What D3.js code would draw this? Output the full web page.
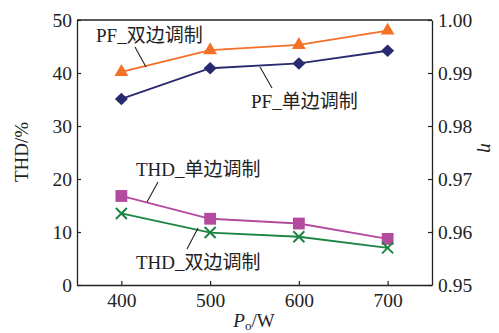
<!DOCTYPE html>
<html>
<head>
<meta charset="utf-8">
<script src="https://cdn.jsdelivr.net/npm/d3@7"></script>
<style>
  body { margin: 0; background: #fff; }
  svg { display: block; }
  text { font-family: "Liberation Serif", "Noto Sans CJK SC", serif; fill: #222; }
</style>
</head>
<body>
<svg id="svgid" width="499" height="333"></svg>
<script>
    var powers = [400, 500, 600, 700],
        pfDouble = [0.9902, 0.9943, 0.9953, 0.9980],
        pfSingle = [0.9851, 0.9909, 0.9918, 0.9942],
        thdSingle = [16.8, 12.5, 11.6, 8.7],
        thdDouble = [13.5, 9.9, 9.1, 7.0],
        leftTicks = [0, 10, 20, 30, 40, 50],
        rightTicks = [0.95, 0.96, 0.97, 0.98, 0.99, 1.00],
        xTicks = [400, 500, 600, 700];

    var margin = { left: 77, right: 67, top: 20, bottom: 48 },
        width = 499 - margin.left - margin.right,
        height = 333 - margin.top - margin.bottom,
        svg = d3.select("svg"),
        g = svg.append("g").attr("transform", "translate(" + margin.left + "," + margin.top + ")");

    var x = d3.scaleLinear().domain([350, 750]).range([0, width]),
        yL = d3.scaleLinear().domain([0, 50]).range([height, 0]),
        yR = d3.scaleLinear().domain([0.95, 1.00]).range([height, 0]);

    // axes, ticks point inward
    var axB = g.append("g").attr("transform", "translate(0," + height + ")")
        .call(d3.axisBottom(x).tickValues(xTicks).tickSizeInner(-4).tickSizeOuter(0).tickPadding(8));
    var axL = g.append("g")
        .call(d3.axisLeft(yL).tickValues(leftTicks).tickSizeInner(-4).tickSizeOuter(0).tickPadding(5));
    var axR = g.append("g").attr("transform", "translate(" + width + ",0)")
        .call(d3.axisRight(yR).tickValues(rightTicks).tickFormat(d3.format(".2f")).tickSizeInner(-4).tickSizeOuter(0).tickPadding(6));
    g.append("line").attr("x1", 0).attr("x2", width).attr("y1", 0).attr("y2", 0)
        .attr("stroke", "#222").attr("stroke-width", 1.3);

    [axB, axL, axR].forEach(function (a) {
        a.select(".domain").attr("stroke", "#222").attr("stroke-width", 1.3);
        a.selectAll(".tick line").attr("stroke", "#222").attr("stroke-width", 1.2);
        a.selectAll("text").style("font-size", "19.5px").attr("fill", "#222")
            .style("font-family", "'Liberation Serif', serif");
    });

    var drawSeries = function (vals, yScale, color, shape) {
        var pts = powers.map(function (p, i) { return [x(p), yScale(vals[i])]; });
        g.append("path").attr("d", d3.line()(pts))
            .attr("fill", "none").attr("stroke", color).attr("stroke-width", 1.8);
        pts.forEach(function (pt) {
            var px = pt[0], py = pt[1], s;
            if (shape === "cross") {
                s = 5.5;
                g.append("path")
                    .attr("d", "M" + (px - s) + "," + (py - s) + "L" + (px + s) + "," + (py + s) +
                        "M" + (px - s) + "," + (py + s) + "L" + (px + s) + "," + (py - s))
                    .attr("stroke", color).attr("stroke-width", 2).attr("fill", "none");
            } else if (shape === "dia") {
                g.append("path")
                    .attr("d", "M" + px + "," + (py - 6.3) + "L" + (px + 6.5) + "," + py + "L" + px + "," + (py + 6.3) + "L" + (px - 6.5) + "," + py + "Z")
                    .attr("fill", color);
            } else {
                var sym = shape === "tri" ? d3.symbolTriangle : d3.symbolSquare,
                    size = shape === "tri" ? 82 : 140;
                g.append("path").attr("d", d3.symbol().type(sym).size(size)())
                    .attr("transform", "translate(" + px + "," + py + ")")
                    .attr("fill", color);
            }
        });
    };

    drawSeries(pfDouble, yR, "#f46f27", "tri");
    drawSeries(pfSingle, yR, "#28296e", "dia");
    drawSeries(thdSingle, yL, "#b44a9e", "sq");
    drawSeries(thdDouble, yL, "#1c8443", "cross");

    // series labels with leader lines
    var labels = [
        { t: "PF_双边调制", x: 96, y: 42, l: [135, 47, 146, 67] },
        { t: "PF_单边调制", x: 251, y: 108, l: [260, 67, 272, 88] },
        { t: "THD_单边调制", x: 136, y: 176, l: [158, 182, 147, 202] },
        { t: "THD_双边调制", x: 136, y: 269, l: [198, 228, 187, 249] }
    ];
    labels.forEach(function (d) {
        svg.append("text").attr("x", d.x).attr("y", d.y).style("font-size", "19px").text(d.t);
        svg.append("line").attr("x1", d.l[0]).attr("y1", d.l[1]).attr("x2", d.l[2]).attr("y2", d.l[3])
            .attr("stroke", "#222").attr("stroke-width", 1.1);
    });

    // axis titles
    svg.append("text").attr("transform", "translate(28,152) rotate(-90)")
        .attr("text-anchor", "middle").style("font-size", "19px").text("THD/%");
    svg.append("text").attr("transform", "translate(481,148) rotate(90)")
        .attr("text-anchor", "middle").style("font-size", "19px").style("font-style", "italic").text("η");
    var xt = svg.append("text").attr("x", 254).attr("y", 327).attr("text-anchor", "middle").style("font-size", "19px");
    xt.append("tspan").style("font-style", "italic").text("P");
    xt.append("tspan").attr("dy", 3).style("font-size", "13px").text("o");
    xt.append("tspan").attr("dy", -3).text("/W");
</script>
</body>
</html>
